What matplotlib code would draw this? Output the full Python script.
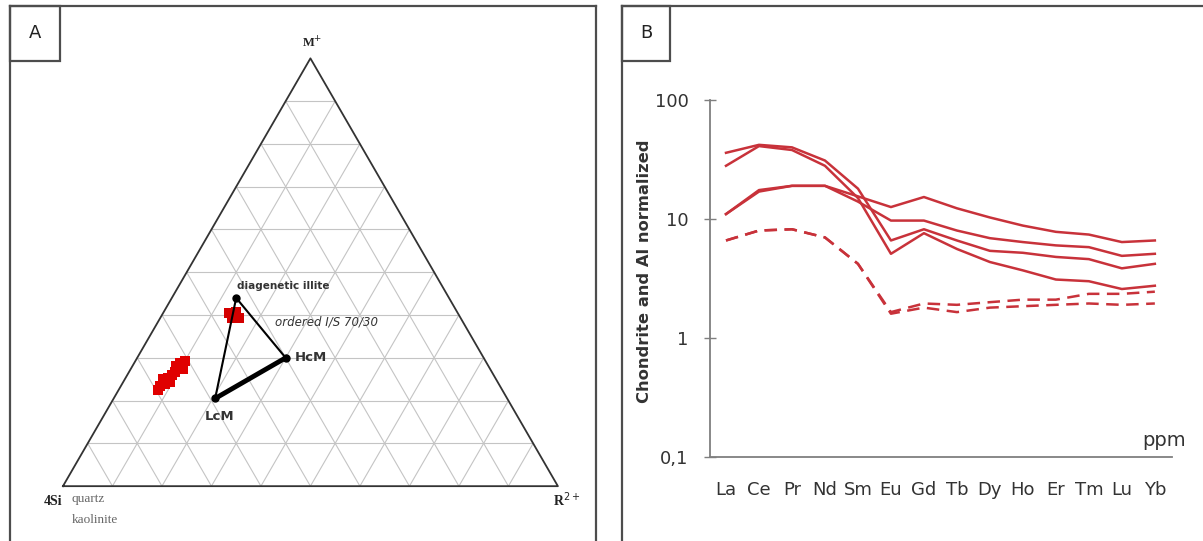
import numpy as np
import matplotlib.pyplot as plt
from matplotlib.patches import Rectangle

W, H = 1203, 541

# ---------------------------------------------------------
# Panel A: M+ / 4Si / R2+ ternary, compositions as (M+, R2+) fractions
# ---------------------------------------------------------
end_names = ['diagenetic illite', 'HcM', 'LcM']
end_m = [0.44, 0.30, 0.205]
end_r = [0.13, 0.30, 0.205]

# ordered I/S 70/30 samples
is_m = [0.404, 0.406, 0.392, 0.394]
is_r = [0.134, 0.147, 0.145, 0.159]

# sample cluster
smp_m = [0.233, 0.238, 0.250, 0.254, 0.261, 0.268, 0.275, 0.282, 0.292,
         0.289, 0.280, 0.243, 0.224, 0.273]
smp_r = [0.079, 0.087, 0.077, 0.085, 0.090, 0.092, 0.095, 0.099, 0.101,
         0.092, 0.088, 0.095, 0.080, 0.106]

# ---------------------------------------------------------
# Panel B: REE patterns
# ---------------------------------------------------------
ree = ['La', 'Ce', 'Pr', 'Nd', 'Sm', 'Eu', 'Gd', 'Tb', 'Dy', 'Ho', 'Er', 'Tm', 'Lu', 'Yb']
s1 = [11, 17, 19, 19, 15.5, 12.6, 15.3, 12.3, 10.3, 8.8, 7.8, 7.4, 6.4, 6.6]
s2 = [11, 17.5, 19, 19, 14, 9.7, 9.7, 8.0, 6.9, 6.4, 6.0, 5.8, 4.9, 5.1]
s3 = [36, 42, 40, 31, 18, 6.6, 8.2, 6.6, 5.4, 5.2, 4.8, 4.6, 3.85, 4.2]
s4 = [28, 41, 38, 28, 15, 5.1, 7.6, 5.6, 4.35, 3.7, 3.1, 3.0, 2.58, 2.75]
d1 = [6.6, 8.0, 8.2, 7.0, 4.2, 1.65, 1.95, 1.9, 2.0, 2.1, 2.1, 2.35, 2.35, 2.45]
d2 = [6.6, 8.0, 8.2, 7.0, 4.2, 1.6, 1.8, 1.65, 1.8, 1.85, 1.9, 1.95, 1.9, 1.95]
yticks = [0.1, 1, 10, 100]
ytick_labels = ['0,1', '1', '10', '100']


def tern(m, r):
    m = np.asarray(m, dtype=float)
    r = np.asarray(r, dtype=float)
    return r + m / 2, m * np.sqrt(3) / 2


frame_col = '#4d4d4d'
red = '#c8323a'

fig = plt.figure(figsize=(W / 100, H / 100), dpi=100)

# ---------------------------------------------------------
# Panel A
# ---------------------------------------------------------
axA = fig.add_axes([10 / W, 0, 586 / W, 535 / H])
axA.set_xlim(-0.107, 1.077)
axA.set_ylim(-0.111, 0.972)
axA.set_xticks([])
axA.set_yticks([])
for side in ['left', 'top', 'right']:
    axA.spines[side].set_color(frame_col)
    axA.spines[side].set_linewidth(1.6)
axA.spines['bottom'].set_visible(False)
axA.add_patch(Rectangle((0, 1 - 55 / 535), 50 / 586, 55 / 535, transform=axA.transAxes,
                        fill=False, ec=frame_col, lw=1.6, clip_on=False))
axA.text(25 / 586, 1 - 27 / 535, 'A', transform=axA.transAxes, ha='center', va='center',
         fontsize=13, color='#222')

# grid
for k in range(1, 10):
    f = k / 10
    for mm, rr in [([f, f], [0, 1 - f]), ([0, 1 - f], [f, f]), ([0, 1 - f], [1 - f, 0])]:
        gx, gy = tern(mm, rr)
        axA.plot(gx, gy, color='#c4c4c4', lw=0.8, zorder=1)
tx, ty = tern([0, 0, 1, 0], [0, 1, 0, 0])
axA.plot(tx, ty, color='#333333', lw=1.3, zorder=2)

# samples
sx, sy = tern(smp_m, smp_r)
axA.plot(sx, sy, 's', color='#e00000', ms=7, mew=0, zorder=3)
ix, iy = tern(is_m, is_r)
axA.plot(ix, iy, 's', color='#d40000', ms=6.5, mew=0, zorder=3)

# end-member triangle
ex, ey = tern(end_m, end_r)
axA.plot([ex[2], ex[0], ex[1]], [ey[2], ey[0], ey[1]], color='black', lw=1.5, zorder=4)
axA.plot([ex[2], ex[1]], [ey[2], ey[1]], color='black', lw=3.5, zorder=4)
axA.plot(ex, ey, 'o', color='black', ms=5, zorder=5)

axA.text(0.3515, 0.406, end_names[0], fontsize=7.5, fontweight='bold', color='#333',
         ha='left', va='center')
axA.text(0.428, 0.333, 'ordered I/S 70/30', fontsize=8.5, style='italic', color='#333',
         ha='left', va='center')
axA.text(0.469, 0.261, end_names[1], fontsize=9.5, fontweight='bold', color='#333',
         ha='left', va='center')
axA.text(0.317, 0.141, end_names[2], fontsize=9.5, fontweight='bold', color='#333',
         ha='center', va='center')

serif = 'Liberation Serif'
axA.text(0.503, 0.897, r'M$^{+}$', family=serif, fontsize=9, fontweight='bold',
         ha='center', va='center', color='#222')
axA.text(-0.002, -0.032, '4Si', family=serif, fontsize=10, fontweight='bold',
         ha='right', va='center', color='#222')
axA.text(0.018, -0.026, 'quartz', family=serif, fontsize=9.5, ha='left', va='center',
         color='#666')
axA.text(0.018, -0.069, 'kaolinite', family=serif, fontsize=9.5, ha='left', va='center',
         color='#666')
axA.text(0.99, -0.028, r'R$^{2+}$', family=serif, fontsize=10, fontweight='bold',
         ha='left', va='center', color='#222')

# ---------------------------------------------------------
# Panel B frame
# ---------------------------------------------------------
axF = fig.add_axes([622 / W, 0, 580 / W, 535 / H])
axF.set_xticks([])
axF.set_yticks([])
axF.patch.set_alpha(0)
for side in ['left', 'top']:
    axF.spines[side].set_color(frame_col)
    axF.spines[side].set_linewidth(1.6)
axF.spines['right'].set_visible(False)
axF.spines['bottom'].set_visible(False)
axF.add_patch(Rectangle((0, 1 - 55 / 535), 48 / 580, 55 / 535, transform=axF.transAxes,
                        fill=False, ec=frame_col, lw=1.6, clip_on=False))
axF.text(24 / 580, 1 - 27 / 535, 'B', transform=axF.transAxes, ha='center', va='center',
         fontsize=13, color='#222')

# ---------------------------------------------------------
# Panel B plot
# ---------------------------------------------------------
axB = fig.add_axes([710 / W, (541 - 457) / H, 462 / W, 357 / H])
x = np.arange(len(ree))
for s in [s1, s2, s3, s4]:
    axB.plot(x, s, color=red, lw=1.8)
for d in [d1, d2]:
    axB.plot(x, d, color=red, lw=1.8, dashes=(5, 3))

axB.set_yscale('log')
axB.set_ylim(0.1, 100)
axB.set_xlim(-0.485, 13.52)
axB.set_yticks(yticks)
axB.set_yticklabels(ytick_labels)
axB.minorticks_off()
axB.set_xticks(x)
axB.set_xticklabels(ree)
axB.tick_params(axis='x', length=0, pad=17, labelsize=13, labelcolor='#333')
axB.tick_params(axis='y', direction='inout', length=9, width=1, color='#7f7f7f',
                pad=11, labelsize=13, labelcolor='#333')
for side in ['top', 'right']:
    axB.spines[side].set_visible(False)
for side in ['left', 'bottom']:
    axB.spines[side].set_color('#7f7f7f')
    axB.spines[side].set_linewidth(1.3)
axB.patch.set_alpha(0)
axB.set_ylabel('Chondrite and Al normalized', fontsize=11.8, fontweight='bold', color='#333')
axB.yaxis.set_label_coords(-0.125, 0.52)
axB.text(1.03, 0.045, 'ppm', transform=axB.transAxes, ha='right', va='center',
         fontsize=14, color='#333')

fig.savefig('out.png', dpi=100)
